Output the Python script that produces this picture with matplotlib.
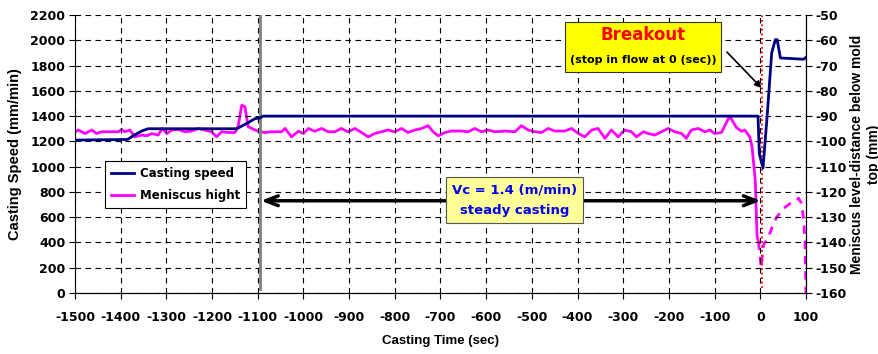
import matplotlib.pyplot as plt
from matplotlib.lines import Line2D

# casting speed (mm/min) vs time (s)
speed_t = [-1500, -1385, -1370, -1355, -1340, -1146, -1125, -1106, -1095, -1088,
           -5, -2, 6, 15, 25, 33, 37, 44, 95, 100]
speed_v = [1210, 1215, 1250, 1280, 1300, 1300, 1340, 1380, 1385, 1400,
           1400, 1100, 990, 1400, 1900, 2005, 2005, 1860, 1850, 1865]

# meniscus level (mm below mold top), measured part
men_t = [-1500, -1493, -1478, -1463, -1453, -1442, -1420, -1405, -1398, -1391,
         -1380, -1369, -1354, -1343, -1332, -1318, -1309, -1299, -1288, -1274,
         -1259, -1245, -1230, -1216, -1201, -1190, -1179, -1164, -1150, -1143,
         -1135, -1128, -1121, -1106, -1095, -1084, -1070, -1048, -1040, -1026,
         -1011, -1000, -989, -975, -960, -946, -931, -917, -902, -887,
         -873, -858, -844, -829, -815, -800, -785, -771, -756, -741,
         -727, -716, -705, -690, -676, -654, -639, -625, -610, -596,
         -581, -559, -537, -523, -508, -493, -479, -464, -450, -428,
         -413, -398, -384, -369, -355, -340, -326, -311, -297, -282,
         -271, -256, -245, -231, -216, -202, -187, -172, -162, -151,
         -136, -121, -110, -100, -85, -67, -52, -41, -34, -23,
         -18, -11, -7, -4]
men_v = [-96.2, -95.5, -96.9, -95.5, -96.9, -96.2, -96.2, -96.2, -95.3, -96.2,
         -95.5, -98.2, -97.5, -97.8, -96.9, -97.5, -94.9, -96.9, -95.5, -95.3,
         -96.2, -95.9, -94.9, -95.5, -96.2, -98.2, -96.2, -96.5, -96.5, -94.2,
         -85.7, -86.3, -94.2, -95.5, -96.2, -96.5, -96.2, -96.2, -94.9, -98.2,
         -96.0, -96.9, -94.9, -96.0, -94.9, -96.2, -96.2, -94.9, -96.2, -94.9,
         -96.5, -98.2, -96.9, -96.2, -95.5, -96.2, -94.9, -96.5, -95.5, -94.9,
         -93.8, -96.2, -97.8, -96.5, -95.9, -95.9, -96.2, -94.9, -96.2, -95.5,
         -96.2, -95.9, -96.2, -93.8, -95.5, -96.2, -96.5, -94.9, -95.9, -95.9,
         -94.9, -96.9, -98.2, -95.5, -94.9, -98.8, -95.5, -98.2, -95.5, -96.2,
         -98.2, -96.2, -96.9, -97.5, -96.2, -94.9, -96.2, -96.9, -98.8, -95.5,
         -94.9, -96.2, -95.5, -96.9, -96.5, -90.0, -94.6, -96.0, -95.5, -98.2,
         -102.1, -115.3, -137.7, -139.7]

# meniscus after breakout (dashed)
brk_t = [-4, 2, 7, 12, 22, 29, 36, 51, 66, 78, 84, 90, 95, 98, 100]
brk_v = [-139.7, -150.0, -141.0, -139.5, -136.0, -132.4, -130.0, -126.5,
         -124.5, -123.5, -122.5, -124.5, -131.0, -140.0, -160.0]

x_ticks = list(range(-1500, 101, 100))
left_ticks = list(range(0, 2201, 200))
right_ticks = list(range(-160, -49, 10))

NAVY = "#000080"
MAG = "#FF00FF"
tick_font = {"family": "DejaVu Sans", "weight": "bold", "size": 9}

fig = plt.figure(figsize=(8.79, 3.54), dpi=100)
ax = fig.add_axes([0.0853, 0.1723, 0.8316, 0.7853])
ax2 = ax.twinx()

ax.set_xlim(-1500, 100)
ax.set_ylim(0, 2200)
ax2.set_ylim(-160, -50)

ax.set_xticks(x_ticks)
ax.set_yticks(left_ticks)
ax2.set_yticks(right_ticks)
ax.set_xticklabels([str(v) for v in x_ticks], fontdict=tick_font)
ax.set_yticklabels([str(v) for v in left_ticks], fontdict=tick_font)
ax2.set_yticklabels([str(v) for v in right_ticks], fontdict=tick_font)
ax.tick_params(direction="out", length=4, width=0.8, pad=3)
ax2.tick_params(direction="out", length=4, width=0.8, pad=3)
ax.tick_params(axis="x", pad=9)

ax.grid(True, color="black", linestyle=(0, (5, 4)), linewidth=0.8)
ax.set_axisbelow(True)
for a in (ax, ax2):
    a.spines["top"].set_visible(False)
ax2.spines["left"].set_visible(False)

# steady-casting start and breakout instant
ax.plot([-1095, -1095], [35, 2200], color="#808080", linewidth=2, zorder=2)
ax.plot([3, 3], [40, 2200], color="red", linestyle=(0, (1, 1.5)), linewidth=1.3, zorder=2)

ax.plot(speed_t, speed_v, color=NAVY, linewidth=2, zorder=4)
ax2.plot(men_t, men_v, color=MAG, linewidth=2, zorder=3)
ax2.plot(brk_t, brk_v, color=MAG, linewidth=2, linestyle=(0, (3, 2.5)), zorder=3)
ax.set_zorder(ax2.get_zorder() + 1)
ax.patch.set_visible(False)

ax.set_ylabel("Casting Speed (mm/min)",
              fontdict={"family": "Liberation Sans", "weight": "bold", "size": 10.5},
              labelpad=6)
ax2.set_ylabel("Meniscus level-distance below mold\ntop (mm)",
               fontdict={"family": "Liberation Sans", "weight": "bold", "size": 10},
               labelpad=2, linespacing=1.25)
ax.set_xlabel("Casting Time (sec)",
              fontdict={"family": ["Liberation Sans Narrow", "Liberation Sans"],
                        "weight": "bold", "size": 9.5}, labelpad=8)

handles = [Line2D([], [], color=NAVY, linewidth=2),
           Line2D([], [], color=MAG, linewidth=2)]
leg = ax.legend(handles, ["Casting speed", "Meniscus hight"], loc="upper left",
                bbox_to_anchor=(0.041, 0.475), borderaxespad=0, fancybox=False,
                framealpha=1, edgecolor="black", handlelength=2.0,
                handletextpad=0.45, labelspacing=0.8, borderpad=0.5,
                prop={"family": "DejaVu Sans", "weight": "bold", "size": 8.5})
leg.get_frame().set_linewidth(0.8)

# steady casting span arrow and note
ax.annotate("", xy=(1, 730), xytext=(-1093, 730),
            arrowprops=dict(arrowstyle="<->,head_length=0.9,head_width=0.35",
                            color="black", linewidth=2.5, shrinkA=0, shrinkB=0),
            zorder=5)
ax.text(-537, 736, "Vc = 1.4 (m/min)\nsteady casting", ha="center", va="center",
        color="#0000EE", fontsize=9.5, fontweight="bold", linespacing=1.75,
        bbox=dict(boxstyle="square,pad=0.45", facecolor="#FFFF99",
                  edgecolor="#555555", linewidth=0.8), zorder=6)

# breakout note
ax.annotate("", xy=(3, 1622), xytext=(-73, 1907),
            arrowprops=dict(arrowstyle="-|>,head_length=0.4,head_width=0.2",
                            color="black", linewidth=1.2, shrinkA=0, shrinkB=0),
            zorder=5)
ax.text(-256, 2040, "Breakout", ha="center", va="center", color="red",
        fontsize=12, fontweight="bold", zorder=7)
ax.text(-256, 1840, "(stop in flow at 0 (sec))", ha="center", va="center",
        color="black", fontsize=8, fontweight="bold", zorder=7)
ax.add_patch(plt.Rectangle((-256 - 171, 1746), 342, 395, facecolor="#FFFF00",
                           edgecolor="#333333", linewidth=0.8, zorder=6))

fig.savefig("out.png", dpi=100)
